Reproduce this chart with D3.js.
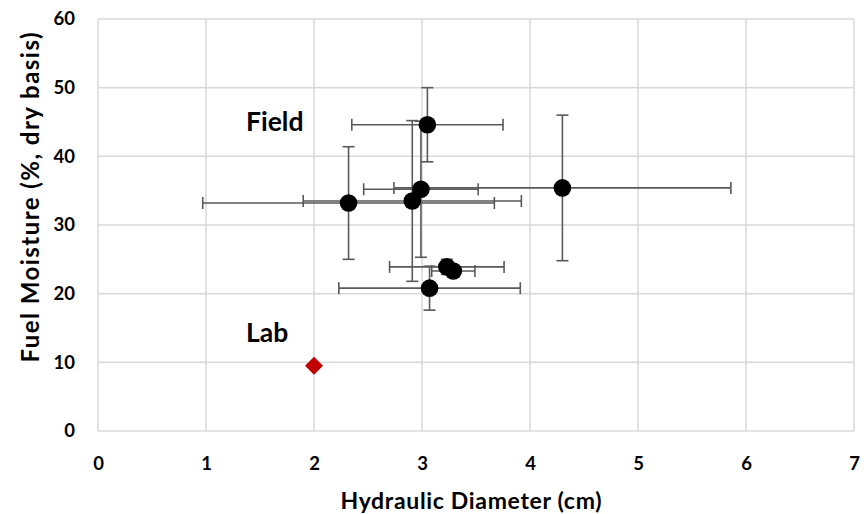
<!DOCTYPE html>
<html>
<head>
<meta charset="utf-8">
<script src="https://cdn.jsdelivr.net/npm/d3@7"></script>
<style>
  html, body { margin: 0; padding: 0; background: #fff; }
  svg { display: block; font-family: Lato, "Open Sans", sans-serif; }
</style>
</head>
<body>
<svg id="chart" width="868" height="514"></svg>
<script>
// Field samples: hydraulic diameter (cm) and fuel moisture (% dry basis), with ± spreads
const fieldDiameter      = [3.05, 4.30, 2.32, 2.91, 2.99, 3.23, 3.29, 3.07];
const fieldDiameterError = [0.70, 1.56, 1.35, 1.01, 0.53, 0.53, 0.20, 0.84];
const fieldMoisture      = [44.6, 35.4, 33.2, 33.5, 35.2, 23.9, 23.3, 20.8];
const fieldMoistureError = [5.4, 10.6, 8.2, 11.7, 9.9, 1.1, 0.5, 3.2];

// Laboratory sample
const labDiameter = [2.0];
const labMoisture = [9.5];

const xTicks = [0, 1, 2, 3, 4, 5, 6, 7];
const yTicks = [0, 10, 20, 30, 40, 50, 60];

const svg = d3.select("#chart");

const x = d3.scaleLinear().domain([0, 7]).range([98, 854]);
const y = d3.scaleLinear().domain([0, 60]).range([431, 19]);

// Gridlines
const grid = svg.append("g").attr("stroke", "#d9d9d9").attr("stroke-width", 1.5);
grid.selectAll("line.v").data(xTicks).join("line")
  .attr("x1", d => x(d)).attr("x2", d => x(d))
  .attr("y1", y(0)).attr("y2", y(60));
grid.selectAll("line.h").data(yTicks).join("line")
  .attr("x1", x(0)).attr("x2", x(7))
  .attr("y1", d => y(d)).attr("y2", d => y(d));

// Axes (labels only)
const xAxis = svg.append("g")
  .attr("transform", `translate(0,${y(0)})`)
  .call(d3.axisBottom(x).tickValues(xTicks).tickSize(0).tickPadding(26).tickFormat(d3.format("d")));
const yAxis = svg.append("g")
  .attr("transform", `translate(${x(0)},0)`)
  .call(d3.axisLeft(y).tickValues(yTicks).tickSize(0).tickPadding(23).tickFormat(d3.format("d")));
[xAxis, yAxis].forEach(a => {
  a.select(".domain").remove();
  a.selectAll("text")
    .attr("fill", "#000")
    .style("font-family", "Lato, 'Open Sans', sans-serif")
    .style("font-size", "18.5px")
    .style("font-weight", "bold");
});

// Axis titles
svg.append("text")
  .attr("x", 471).attr("y", 509)
  .attr("text-anchor", "middle")
  .attr("textLength", 261).attr("lengthAdjust", "spacing")
  .style("font-size", "23px").style("font-weight", "bold")
  .text("Hydraulic Diameter (cm)");
svg.append("text")
  .attr("transform", "translate(39,197.5) rotate(-90)")
  .attr("text-anchor", "middle")
  .attr("textLength", 330).attr("lengthAdjust", "spacing")
  .style("font-size", "24px").style("font-weight", "bold")
  .text("Fuel Moisture (%, dry basis)");

// Error bars
const field = fieldDiameter.map((d, i) => ({
  x: d, y: fieldMoisture[i], ex: fieldDiameterError[i], ey: fieldMoistureError[i]
}));
const cap = 6;
const eb = svg.append("g").attr("stroke", "#595959").attr("stroke-width", 1.6).attr("fill", "none");
field.forEach(p => {
  const g = eb.append("g");
  // horizontal
  g.append("line").attr("x1", x(p.x - p.ex)).attr("x2", x(p.x + p.ex))
    .attr("y1", y(p.y)).attr("y2", y(p.y));
  [p.x - p.ex, p.x + p.ex].forEach(v => g.append("line")
    .attr("x1", x(v)).attr("x2", x(v))
    .attr("y1", y(p.y) - cap).attr("y2", y(p.y) + cap));
  // vertical
  g.append("line").attr("x1", x(p.x)).attr("x2", x(p.x))
    .attr("y1", y(p.y - p.ey)).attr("y2", y(p.y + p.ey));
  [p.y - p.ey, p.y + p.ey].forEach(v => g.append("line")
    .attr("x1", x(p.x) - cap).attr("x2", x(p.x) + cap)
    .attr("y1", y(v)).attr("y2", y(v)));
});

// Field markers
svg.append("g").selectAll("circle").data(field).join("circle")
  .attr("cx", d => x(d.x)).attr("cy", d => y(d.y))
  .attr("r", 8.8).attr("fill", "#000");

// Lab marker
svg.append("g").selectAll("path").data(labDiameter.map((d, i) => ({ x: d, y: labMoisture[i] }))).join("path")
  .attr("transform", d => `translate(${x(d.x)},${y(d.y)})`)
  .attr("d", "M0,-9L9,0L0,9L-9,0Z")
  .attr("fill", "#c00000");

// Annotations
svg.append("text").attr("x", 246).attr("y", 131)
  .style("font-size", "26.5px").style("font-weight", "bold").text("Field");
svg.append("text").attr("x", 246).attr("y", 342)
  .style("font-size", "26.5px").style("font-weight", "bold").text("Lab");
</script>
</body>
</html>
